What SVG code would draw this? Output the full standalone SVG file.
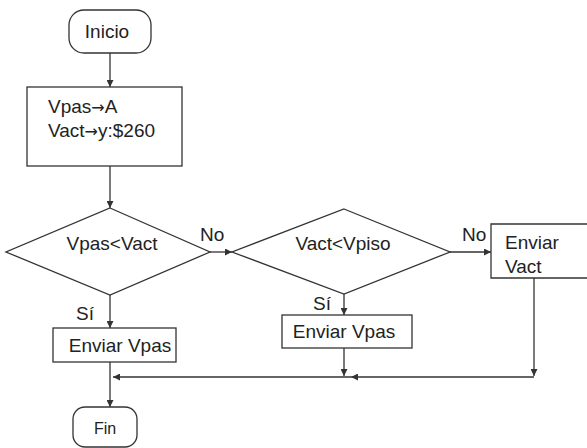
<svg xmlns="http://www.w3.org/2000/svg" width="587" height="448" viewBox="0 0 587 448">
<style>
  .shape { fill: #ffffff; stroke: #333333; stroke-width: 1.3; }
  .t { font-family: "Liberation Sans", Arial, sans-serif; fill: #222222; font-size: 19px; }
  .c { text-anchor: middle; }
  .arr { font-family: "DejaVu Sans", sans-serif; font-size: 16px; }
  .conn { stroke: #333333; stroke-width: 1.3; fill: none; marker-end: url(#arrow); }
</style>
<defs>
  <marker id="arrow" markerUnits="userSpaceOnUse" markerWidth="8" markerHeight="7" refX="7" refY="3.5" orient="auto">
    <path d="M0,0 L7,3.5 L0,7 Z" fill="#333333"/>
  </marker>
</defs>
<rect width="587" height="448" fill="#ffffff"/>

<g id="connectors">
  <line class="conn" x1="110" y1="53" x2="110" y2="87"/>
  <line class="conn" x1="110" y1="166" x2="110" y2="208"/>
  <line class="conn" x1="210" y1="252" x2="232" y2="252"/>
  <line class="conn" x1="450" y1="252" x2="491" y2="252"/>
  <line class="conn" x1="110" y1="295" x2="110" y2="328"/>
  <line class="conn" x1="344" y1="294" x2="344" y2="315"/>
  <line class="conn" x1="344" y1="348" x2="344" y2="376"/>
  <line class="conn" x1="534" y1="278" x2="534" y2="376"/>
  <line class="conn" x1="534" y1="377" x2="351" y2="377"/>
  <line class="conn" x1="351" y1="377" x2="113" y2="377"/>
  <line class="conn" x1="110" y1="362" x2="110" y2="407"/>
</g>

<g id="inicio">
  <rect class="shape" x="69" y="10" width="82" height="43" rx="15" ry="15"/>
  <text class="t c" x="107" y="38">Inicio</text>
</g>

<g id="asignacion">
  <rect class="shape" x="27" y="87" width="155" height="79"/>
  <text class="t" x="48" y="113">Vpas<tspan class="arr">→</tspan>A</text>
  <text class="t" x="48" y="137">Vact<tspan class="arr">→</tspan>y:$260</text>
</g>

<g id="decision1">
  <polygon class="shape" points="110,208 210,252 110,295 6,252"/>
  <text class="t c" x="112" y="250">Vpas&lt;Vact</text>
</g>

<g id="decision2">
  <polygon class="shape" points="344,209 450,252 344,294 232,252"/>
  <text class="t c" x="343" y="250">Vact&lt;Vpiso</text>
</g>

<g id="enviar-vact">
  <path class="shape" d="M587,224 L491,224 L491,278 L587,278"/>
  <text class="t" x="505" y="249">Enviar</text>
  <text class="t" x="505" y="273">Vact</text>
</g>

<g id="enviar-vpas-1">
  <rect class="shape" x="53" y="328" width="123" height="34"/>
  <text class="t c" x="120" y="352">Enviar Vpas</text>
</g>

<g id="enviar-vpas-2">
  <rect class="shape" x="282" y="315" width="130" height="33"/>
  <text class="t c" x="344" y="338">Enviar Vpas</text>
</g>

<g id="fin">
  <rect class="shape" x="73" y="407" width="64" height="40" rx="12" ry="12"/>
  <text class="t c" x="105" y="434" style="font-size:16px">Fin</text>
</g>

<g id="labels">
  <text class="t" x="200" y="241">No</text>
  <text class="t" x="462" y="241">No</text>
  <text class="t" x="76" y="320">Sí</text>
  <text class="t" x="313" y="310">Sí</text>
</g>
</svg>
